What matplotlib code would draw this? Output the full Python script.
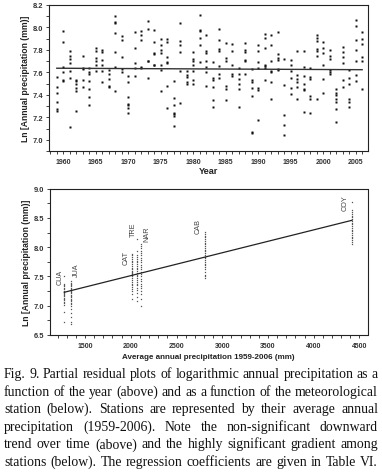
import numpy as np
import matplotlib
matplotlib.use("Agg")
import matplotlib.pyplot as plt
from matplotlib.ticker import MultipleLocator

# --- top panel: partial residuals against year ---
years = list(range(1959, 2007))
year_resid = [
    [7.56, 7.47, 7.42, 7.34, 7.27, 7.26],              # 1959
    [7.97, 7.87, 7.65, 7.60, 7.53, 7.52],
    [7.79, 7.75, 7.72, 7.68, 7.61, 7.55, 7.11],
    [7.53, 7.52, 7.50, 7.46, 7.43, 7.26],
    [7.75, 7.64, 7.63, 7.53, 7.47],
    [7.64, 7.60, 7.59, 7.52, 7.45, 7.38, 7.31],        # 1964
    [7.82, 7.79, 7.73, 7.70, 7.67, 7.61],
    [7.80, 7.78, 7.71, 7.67, 7.61, 7.51],
    [7.62, 7.59, 7.54, 7.48, 7.47],
    [8.10, 8.05, 8.04, 7.95, 7.78, 7.65, 7.43],
    [7.92, 7.89, 7.74, 7.63, 7.60],                    # 1969
    [7.57, 7.51, 7.38, 7.32, 7.31, 7.28, 7.24],
    [7.96, 7.82, 7.68, 7.64, 7.57],
    [7.97, 7.93, 7.89, 7.65, 7.64],
    [8.06, 7.99, 7.70, 7.70, 7.55],
    [7.98, 7.87, 7.77, 7.76, 7.67, 7.67],              # 1974
    [7.90, 7.84, 7.80, 7.77, 7.67, 7.62, 7.43],
    [7.90, 7.87, 7.74, 7.69, 7.68, 7.48, 7.28],
    [7.52, 7.37, 7.31, 7.24, 7.23, 7.21, 7.12],
    [8.04, 7.88, 7.84, 7.78, 7.61, 7.33],
    [7.61, 7.58, 7.56, 7.51, 7.50],                    # 1979
    [7.78, 7.72, 7.70, 7.67, 7.61, 7.53, 7.50],
    [8.11, 7.98, 7.97, 7.91, 7.84, 7.69],
    [7.93, 7.79, 7.77, 7.70, 7.65, 7.60, 7.48],
    [7.69, 7.55, 7.53, 7.47, 7.35, 7.29],
    [7.99, 7.89, 7.81, 7.79, 7.66, 7.59, 7.55],        # 1984
    [7.86, 7.73, 7.70, 7.48, 7.45, 7.35],
    [7.85, 7.79, 7.67, 7.59, 7.57],
    [7.64, 7.59, 7.54, 7.50, 7.45, 7.29],
    [7.86, 7.80, 7.78, 7.71, 7.70, 7.59],
    [7.63, 7.53, 7.51, 7.46, 7.39, 7.07, 7.06],        # 1989
    [7.84, 7.79, 7.69, 7.64, 7.46, 7.44, 7.18],
    [7.94, 7.91, 7.82, 7.67, 7.66, 7.64, 7.53],
    [7.93, 7.84, 7.70, 7.61, 7.60, 7.51, 7.36],
    [7.96, 7.76, 7.73, 7.71, 7.63, 7.62],
    [7.72, 7.49, 7.22, 7.13, 7.04],                    # 1994
    [7.71, 7.67, 7.61, 7.55, 7.46, 7.41],
    [7.79, 7.58, 7.54, 7.51, 7.47, 7.36],
    [7.79, 7.65, 7.57, 7.50, 7.45, 7.44, 7.25],
    [7.64, 7.56, 7.54, 7.39, 7.36, 7.24],
    [7.93, 7.91, 7.88, 7.81, 7.79, 7.75, 7.36],        # 1999
    [7.87, 7.82, 7.77, 7.67, 7.54, 7.42],
    [7.80, 7.75, 7.72, 7.62, 7.60, 7.59],
    [7.45, 7.42, 7.40, 7.36, 7.34, 7.27, 7.16],
    [7.83, 7.78, 7.74, 7.68, 7.53, 7.47],
    [7.62, 7.55, 7.50, 7.36, 7.34, 7.29],              # 2004
    [8.07, 8.01, 7.89, 7.80, 7.70, 7.58, 7.52],
    [7.96, 7.90, 7.85, 7.74, 7.70, 7.45],
]
trend_years = [1959, 2006]
trend_vals = [7.637, 7.624]

# --- bottom panel: partial residuals against station mean precipitation ---
station_names = ["CUA", "JUA", "CAT", "TRE", "NAR", "CAB", "COY"]
station_precip = [1273, 1344, 2011, 2066, 2109, 2813, 4418]
station_resid = [
    [6.72, 6.89, 7.01, 7.04, 7.06, 7.09, 7.11, 7.13, 7.16, 7.18, 7.20, 7.22,
     7.24, 7.26, 7.28, 7.31, 7.33, 7.35, 7.37, 7.50],
    [6.68, 6.72, 6.80, 6.88, 6.95, 7.00, 7.03, 7.05, 7.08, 7.10, 7.12, 7.15,
     7.17, 7.19, 7.21, 7.23, 7.25, 7.27, 7.29, 7.31, 7.33, 7.35, 7.37, 7.39, 7.42],
    [7.12, 7.20, 7.25, 7.29, 7.32, 7.35, 7.38, 7.41, 7.44, 7.47, 7.50, 7.52,
     7.54, 7.56, 7.58, 7.60, 7.62, 7.65, 7.68, 7.71, 7.74, 7.77, 7.80, 7.83, 7.86, 7.88],
    [7.08, 7.15, 7.22, 7.27, 7.31, 7.35, 7.38, 7.41, 7.44, 7.47, 7.50, 7.53,
     7.56, 7.59, 7.62, 7.65, 7.68, 7.71, 7.74, 7.77, 7.80, 7.83, 7.86, 7.94, 8.14],
    [7.00, 7.12, 7.20, 7.26, 7.30, 7.34, 7.38, 7.42, 7.46, 7.50, 7.54, 7.58,
     7.62, 7.66, 7.70, 7.74, 7.78, 7.82, 7.86, 7.90, 7.94, 7.98, 8.02, 8.05],
    [7.47, 7.50, 7.53, 7.58, 7.62, 7.66, 7.69, 7.72, 7.75, 7.78, 7.81, 7.84,
     7.87, 7.90, 7.93, 7.96, 7.99, 8.02, 8.05, 8.08, 8.11, 8.14, 8.17, 8.20, 8.23, 8.26],
    [8.06, 8.09, 8.12, 8.15, 8.18, 8.21, 8.24, 8.27, 8.30, 8.33, 8.36, 8.39,
     8.42, 8.45, 8.48, 8.51, 8.54, 8.57, 8.60, 8.63, 8.77],
]
gradient_x = [1273, 4418]
gradient_y = [7.23, 8.46]

caption = [
    "Fig. 9. Partial residual plots of logarithmic annual precipitation as a",
    "function of the year (above) and as a function of the meteorological",
    "station (below). Stations are represented by their average annual",
    "precipitation (1959-2006). Note the non-significant downward",
    "trend over time (above) and the highly significant gradient among",
    "stations (below). The regression coefficients are given in Table VI.",
]

plt.rcParams['font.family'] = ['Liberation Sans', 'DejaVu Sans']
W, H = 382, 477
fig = plt.figure(figsize=(W / 100, H / 100), dpi=100)
fig.patch.set_facecolor("white")

ink = "#222222"


def style_axes(ax):
    for s in ax.spines.values():
        s.set_color(ink)
        s.set_linewidth(0.8)
    ax.tick_params(which="both", direction="out", color=ink, width=0.6)
    ax.tick_params(axis="x", pad=2.5)
    ax.tick_params(axis="y", pad=1.5)
    ax.tick_params(which="major", length=2.5)
    ax.tick_params(which="minor", length=2.0)
    for lab in ax.get_xticklabels():
        lab.set_fontsize(5.0)
        lab.set_fontweight("bold")
        lab.set_color("#333333")
    for lab in ax.get_yticklabels():
        lab.set_fontsize(5.4)
        lab.set_fontweight("bold")
        lab.set_color("#333333")


# top panel
ax1 = fig.add_axes([49 / W, 1 - 152 / H, 319 / W, 146 / H])
xs = [y for y, vals in zip(years, year_resid) for _ in vals]
ys = [v for vals in year_resid for v in vals]
ax1.plot(xs, ys, ls="none", marker="s", ms=1.5, mfc="#111111", mec="none")
ax1.plot(trend_years, trend_vals, color="#333333", lw=1.0)
ax1.set_xlim(1957.8, 2006.9)
ax1.set_ylim(6.9, 8.2)
ax1.xaxis.set_major_locator(MultipleLocator(5))
ax1.xaxis.set_minor_locator(MultipleLocator(1))
ax1.yaxis.set_major_locator(MultipleLocator(0.2))
ax1.yaxis.set_minor_locator(MultipleLocator(0.1))
ax1.yaxis.set_major_formatter(lambda v, p: f"{v:.1f}" if v >= 6.95 else "")
ax1.set_xlabel("Year", fontsize=6.6, fontweight="bold", color=ink, labelpad=0.5)
ax1.set_ylabel("Ln [Annual precipitation (mm)]", fontsize=6.2,
               fontweight="bold", color=ink, labelpad=2)
style_axes(ax1)

# bottom panel
ax2 = fig.add_axes([50 / W, 1 - 336 / H, 317.5 / W, 146.3 / H])
for px, vals in zip(station_precip, station_resid):
    ax2.plot([px] * len(vals), vals, ls="none", marker="s", ms=0.9,
             mfc="#555555", mec="none")
ax2.plot(gradient_x, gradient_y, color="#222222", lw=0.9)
label_pos = {"CUA": (1227, 7.37), "JUA": (1402, 7.51), "CAT": (1949, 7.71),
             "TRE": (2028, 8.20), "NAR": (2173, 8.11), "CAB": (2740, 8.25),
             "COY": (4345, 8.63)}
for name in station_names:
    lx, ly = label_pos[name]
    ax2.text(lx, ly, name, rotation=90, ha="center", va="bottom",
             fontsize=5.2, color="#444444")
ax2.set_xlim(1117, 4588)
ax2.set_ylim(6.5, 9.0)
ax2.xaxis.set_major_locator(MultipleLocator(500))
ax2.xaxis.set_minor_locator(MultipleLocator(100))
ax2.yaxis.set_major_locator(MultipleLocator(0.5))
ax2.yaxis.set_minor_locator(MultipleLocator(0.25))
ax2.yaxis.set_major_formatter(lambda v, p: f"{v:.1f}")
ax2.set_xlabel("Average annual precipitation 1959-2006 (mm)", fontsize=5.8,
               fontweight="bold", color=ink, labelpad=3)
ax2.set_ylabel("Ln [Annual precipitation (mm)]", fontsize=6.2,
               fontweight="bold", color=ink, labelpad=2)
style_axes(ax2)

# caption, justified to the full width; font sized so the first line just fits
x0, x1 = 4 / W, 378 / W
baselines = [378, 395.6, 413.2, 430.8, 448.4, 466]
renderer = fig.canvas.get_renderer()
probe = fig.text(0, 0, caption[0], fontsize=10, family="Liberation Serif")
cap_size = 10 * (x1 - x0) * W / probe.get_window_extent(renderer).width * 0.995
probe.remove()
for line, yb in zip(caption, baselines):
    words = line.split()
    texts = [fig.text(0, 1 - yb / H, w, fontsize=cap_size, va="baseline",
                      family="Liberation Serif", color="#111111") for w in words]
    widths = [t.get_window_extent(renderer).width for t in texts]
    gap = ((x1 - x0) * W - sum(widths)) / (len(words) - 1)
    x = x0 * W
    for t, w in zip(texts, widths):
        t.set_x(x / W)
        x += w + gap

fig.savefig("out.png", dpi=100)
